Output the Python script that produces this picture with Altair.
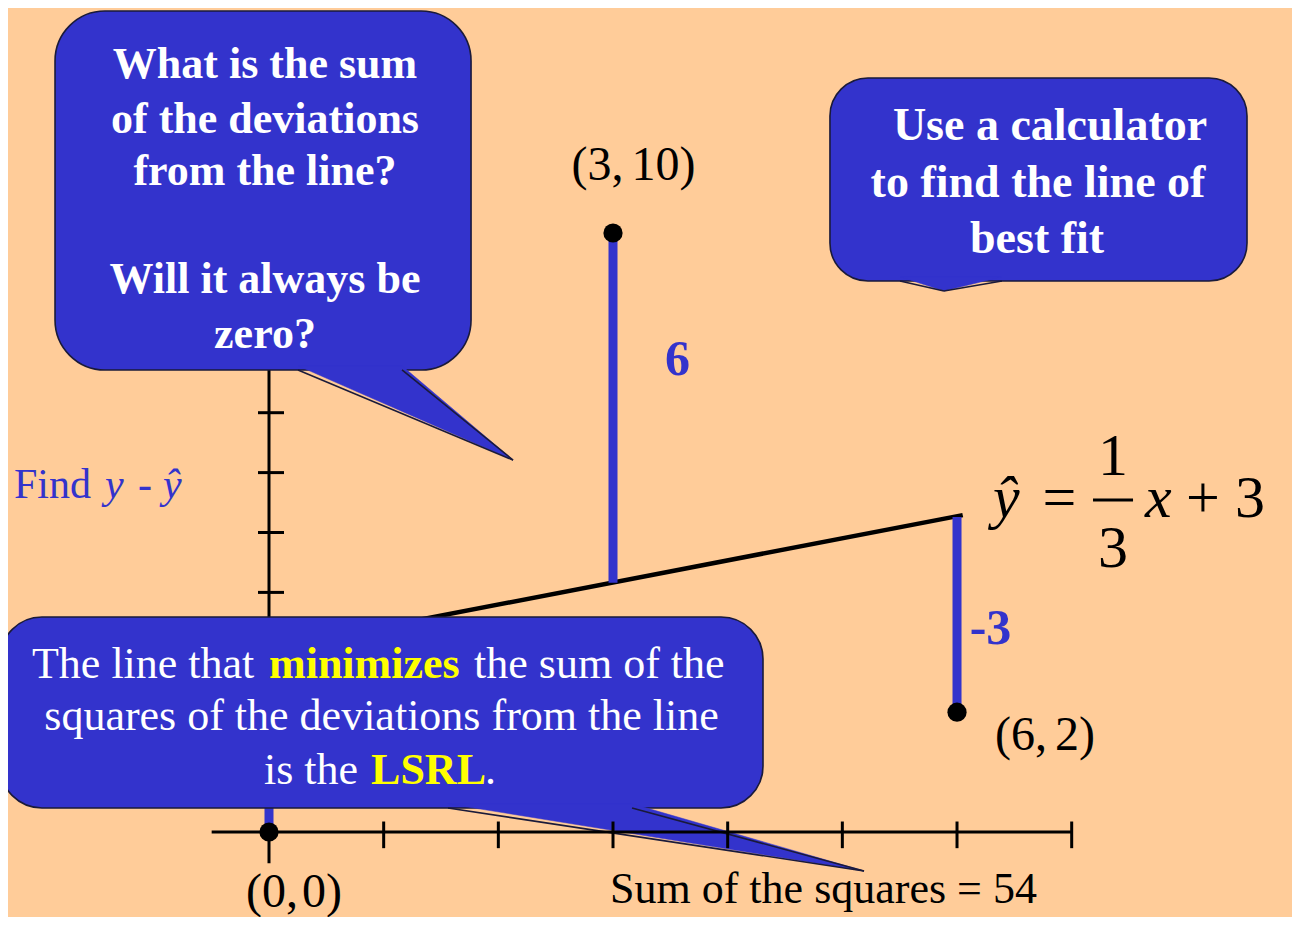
import altair as alt
import pandas as pd

# ---------------- data ----------------
pt_x = [0, 3, 6]
pt_y = [0, 10, 2]
fit_at_pt = [3.06, 4.16, 5.26]          # y-hat where the drawn line meets each x
point_labels = ["(0,\u200a0)", "(3,\u200a\u200a10)", "(6,\u200a\u200a2)"]
residual_labels = ["6", "-3"]
line_x = [0.0, 6.05]
line_y = [3.06, 5.29]
x_ticks = [1, 2, 3, 4, 5, 6, 7]
y_ticks = [1, 2, 3, 4, 5, 6, 7]

# ---------------- styling ----------------
BG = "#FFCC99"
BLUE = "#3333CC"
WHITE = "#FFFFFF"
YELLOW = "#FFFF00"
BLACK = "#000000"
EDGE = "#1a1a3a"
FONT = "Liberation Serif"

XMIN, XMAX = -2.2761, 8.9213
YMIN, YMAX = -1.4190, 13.7563
xs = alt.Scale(domain=[XMIN, XMAX], nice=False, zero=False)
ys = alt.Scale(domain=[YMIN, YMAX], nice=False, zero=False)


def X(f):
    return alt.X(f"{f}:Q", scale=xs, axis=None)


def Y(f):
    return alt.Y(f"{f}:Q", scale=ys, axis=None, stack=None)


layers = []

# y axis (under the callouts)
yaxis = pd.DataFrame({"x": [0], "y": [-0.52], "y2": [8.0]})
layers.append(alt.Chart(yaxis).mark_rule(color=BLACK, strokeWidth=3).encode(
    x=X("x"), y=Y("y"), y2="y2"))
yt = pd.DataFrame({"y": y_ticks, "x": [-0.096] * len(y_ticks), "x2": [0.131] * len(y_ticks)})
layers.append(alt.Chart(yt).mark_rule(color=BLACK, strokeWidth=3).encode(
    x=X("x"), x2="x2", y=Y("y")))

# fitted line
fl = pd.DataFrame({"x": [line_x[0]], "x2": [line_x[1]], "y": [line_y[0]], "y2": [line_y[1]]})
layers.append(alt.Chart(fl).mark_rule(color=BLACK, strokeWidth=4.5).encode(
    x=X("x"), x2="x2", y=Y("y"), y2="y2"))

# residuals
res = pd.DataFrame({"x": pt_x, "y": pt_y, "yhat": fit_at_pt})
layers.append(alt.Chart(res).mark_rule(color=BLUE, strokeWidth=9, strokeCap="butt").encode(
    x=X("x"), y=Y("y"), y2="yhat"))

# callout boxes
boxes = [
    dict(x=-1.866, x2=1.762, y=7.713, y2=13.706, r=50),
    dict(x=4.892, x2=8.529, y=9.199, y2=12.588, r=38),
    dict(x=-2.346, x2=4.308, y=0.401, y2=3.589, r=42),
]
for b in boxes:
    d = pd.DataFrame([{k: b[k] for k in ("x", "x2", "y", "y2")}])
    layers.append(alt.Chart(d).mark_rect(
        color=BLUE, stroke=EDGE, strokeWidth=1.6, cornerRadius=b["r"], opacity=1
    ).encode(x=X("x"), x2="x2", y=Y("y"), y2="y2"))

# callout tails: base corners (on the box edge) and tip
tails = [
    ((0.253, 7.713), (1.160, 7.713), (2.128, 6.210)),
    ((5.503, 9.199), (6.392, 9.199), (5.886, 9.032)),
    ((1.561, 0.401), (3.166, 0.401), (5.189, -0.651)),
]
edges = []
for i, (a, b, t) in enumerate(tails):
    e = 0.07
    poly = pd.DataFrame({
        "x": [a[0], b[0], t[0]],
        "y": [a[1] + e, b[1] + e, t[1]],
        "i": [0, 1, 2],
    })
    layers.append(alt.Chart(poly).mark_line(
        color=BLUE, fill=BLUE, strokeWidth=0.5, interpolate="linear-closed"
    ).encode(x=X("x"), y=Y("y"), order="i:Q"))
    edges.append(dict(x=a[0], y=a[1], x2=t[0], y2=t[1]))
    edges.append(dict(x=b[0], y=b[1], x2=t[0], y2=t[1]))
layers.append(alt.Chart(pd.DataFrame(edges)).mark_rule(color=EDGE, strokeWidth=1.6).encode(
    x=X("x"), x2="x2", y=Y("y"), y2="y2"))

# x axis (on top of the tail)
xaxis = pd.DataFrame({"x": [-0.5], "x2": [7.0], "y": [0]})
layers.append(alt.Chart(xaxis).mark_rule(color=BLACK, strokeWidth=3).encode(
    x=X("x"), x2="x2", y=Y("y")))
xt = pd.DataFrame({"x": x_ticks, "y": [0.175] * len(x_ticks), "y2": [-0.27] * len(x_ticks)})
layers.append(alt.Chart(xt).mark_rule(color=BLACK, strokeWidth=3).encode(
    x=X("x"), y=Y("y"), y2="y2"))

# points
pts = pd.DataFrame({"x": pt_x, "y": pt_y})
layers.append(alt.Chart(pts).mark_circle(color=BLACK, size=370, opacity=1).encode(
    x=X("x"), y=Y("y")))

# fraction bar of the equation
fb = pd.DataFrame({"x": [7.186], "x2": [7.535], "y": [5.543]})
layers.append(alt.Chart(fb).mark_rule(color=BLACK, strokeWidth=3).encode(
    x=X("x"), x2="x2", y=Y("y")))

# ---------------- texts ----------------
T = []


def txt(s, x, y, size, color, weight="normal", style="normal", align="center"):
    T.append(dict(text=s, x=x, y=y, size=size, color=color, weight=weight, style=style, align=align))


for s, y in zip(["What is the sum", "of the deviations", "from the line?", "Will it always be", "zero?"],
                [12.588, 11.669, 10.801, 8.998, 8.080]):
    txt(s, -0.035, y, 44, WHITE, "bold")
for s, x, y in zip(["Use a calculator", "to find the line of", "best fit"],
                   [6.811, 6.706, 6.698], [11.553, 10.601, 9.666]):
    txt(s, x, y, 46, WHITE, "bold")

txt("The line that", -2.067, 2.571, 44, WHITE, align="left")
txt("minimizes", 0.0, 2.571, 44, YELLOW, "bold", align="left")
txt("the sum of the", 1.788, 2.571, 44, WHITE, align="left")
txt("squares of the deviations from the line", 0.981, 1.703, 44, WHITE)
txt("is the", -0.044, 0.801, 44, WHITE, align="left")
txt("LSRL", 0.890, 0.801, 44, YELLOW, "bold", align="left")
txt(".", 1.884, 0.801, 44, WHITE, align="left")

for s, x, y in zip(point_labels, [0.218, 3.179, 6.767], [-1.25, 10.885, 1.369]):
    txt(s, x, y, 48, BLACK)
for s, x, y in zip(residual_labels, [3.562, 6.292], [7.629, 3.139]):
    txt(s, x, y, 50, BLUE, "bold")

txt("Find", -2.224, 5.576, 42, BLUE, align="left")
txt("y", -1.430, 5.576, 42, BLUE, style="italic", align="left")
txt("-", -1.142, 5.576, 42, BLUE, align="left")
txt("\u0177", -0.924, 5.576, 42, BLUE, style="italic", align="left")

txt("Sum of the squares = 54", 2.974, -1.185, 44, BLACK, align="left")

txt("\u0177", 6.314, 5.259, 60, BLACK, style="italic", align="left")
txt("=", 6.894, 5.259, 60, BLACK)
txt("1", 7.360, 5.960, 60, BLACK)
txt("3", 7.360, 4.424, 60, BLACK)
txt("x", 7.639, 5.259, 60, BLACK, style="italic", align="left")
txt("+", 8.145, 5.259, 60, BLACK)
txt("3", 8.555, 5.259, 60, BLACK)

tdf = pd.DataFrame(T)
for (w, st, al), g in tdf.groupby(["weight", "style", "align"]):
    layers.append(alt.Chart(g.reset_index(drop=True)).mark_text(
        font=FONT, fontWeight=w, fontStyle=st, align=al, baseline="alphabetic"
    ).encode(
        x=X("x"), y=Y("y"), text="text:N",
        color=alt.Color("color:N", scale=None),
        size=alt.Size("size:Q", scale=None),
    ))

chart = alt.layer(*layers).properties(
    width=1284, height=909, padding=0,
    autosize=alt.AutoSizeParams(type="none"),
    background=BG,
).configure_view(stroke=None)

chart.save("out.html", embed_options={"renderer": "svg", "actions": False})
